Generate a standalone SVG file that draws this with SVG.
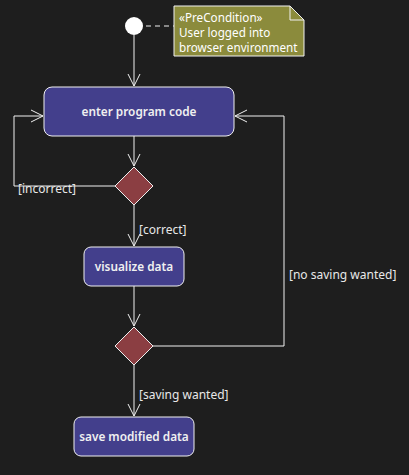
<svg xmlns="http://www.w3.org/2000/svg" width="409" height="475" viewBox="0 0 409 475">
<defs>
<style>
.bg{fill:#1e1e1e}
.box{fill:#433f8c;stroke:#f0f0f0;stroke-width:1}
.dia{fill:#8b3e42;stroke:#f0f0f0;stroke-width:1}
.ln{fill:none;stroke:#f0f0f0;stroke-width:1}
.nt{font-family:"Noto Sans","Open Sans",sans-serif;font-size:11.8px;font-weight:600;fill:#f0f0f0;text-anchor:middle}
.lb{font-family:"Noto Sans","Open Sans",sans-serif;font-size:12px;fill:#e8e8e8}
.nl{font-family:"Noto Sans","Open Sans",sans-serif;font-size:11.7px;fill:#ffffff}
.note{fill:#8b8b3c;stroke:#f0f0f0;stroke-width:1}
</style>
<marker id="arr" viewBox="0 0 14 14" refX="12" refY="7" markerWidth="14" markerHeight="14" markerUnits="userSpaceOnUse" orient="auto">
<path d="M0,1 L12,7 L0,13" fill="none" stroke="#f0f0f0" stroke-width="1"/>
</marker>
</defs>
<rect class="bg" x="0" y="0" width="409" height="475"/>
<g id="connectors">
<line class="ln" x1="146" y1="26" x2="174" y2="26" stroke-dasharray="5,4"/>
<line class="ln" x1="134" y1="35" x2="134" y2="86" marker-end="url(#arr)"/>
<line class="ln" x1="134" y1="136" x2="134" y2="166" marker-end="url(#arr)"/>
<polyline class="ln" points="115,186 14,186 14,116 43,116" marker-end="url(#arr)"/>
<line class="ln" x1="134" y1="205" x2="134" y2="246" marker-end="url(#arr)"/>
<line class="ln" x1="134" y1="286" x2="134" y2="326" marker-end="url(#arr)"/>
<polyline class="ln" points="153,346 284,346 284,116 235,116" marker-end="url(#arr)"/>
<line class="ln" x1="134" y1="365" x2="134" y2="416" marker-end="url(#arr)"/>
<text class="lb" x="18" y="193">[incorrect]</text>
<text class="lb" x="139" y="234">[correct]</text>
<text class="lb" x="289" y="279">[no saving wanted]</text>
<text class="lb" x="139" y="399">[saving wanted]</text>
</g>
<g id="start">
<circle cx="134" cy="26" r="9" fill="#ffffff"/>
</g>
<g id="note">
<path class="note" d="M174,6 L290,6 L304,20 L304,56 L174,56 Z"/>
<path class="ln" d="M290,6 L290,20 L304,20"/>
<text class="nl" x="179" y="22">«PreCondition»</text>
<text class="nl" x="179" y="37">User logged into</text>
<text class="nl" x="179" y="52">browser environment</text>
</g>
<g id="enter">
<rect class="box" x="44" y="87" width="190" height="49" rx="8"/>
<text class="nt" x="139" y="116">enter program code</text>
</g>
<g id="decision1">
<polygon class="dia" points="134,167 153,186 134,205 115,186"/>
</g>
<g id="visualize">
<rect class="box" x="84" y="247" width="100" height="39" rx="7"/>
<text class="nt" x="134" y="271">visualize data</text>
</g>
<g id="decision2">
<polygon class="dia" points="134,327 153,346 134,365 115,346"/>
</g>
<g id="save">
<rect class="box" x="74" y="417" width="120" height="39" rx="7"/>
<text class="nt" x="134" y="441">save modified data</text>
</g>
</svg>
